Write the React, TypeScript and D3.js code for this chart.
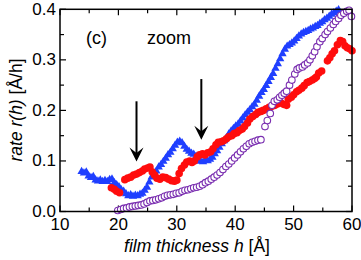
import * as d3 from 'd3';

const W = 361;
const H = 260;
const left = 60;
const right = 352;
const top = 9.3;
const bottom = 211.5;

const xTicks = [10, 20, 30, 40, 50, 60];
const yTicks = [0.0, 0.1, 0.2, 0.3, 0.4];

// blue triangles
const blueH = [
  13.7, 14.1, 14.5, 14.9, 15.3, 15.7, 16.1, 16.5, 16.9, 17.3, 17.7, 18.1, 18.5, 18.9, 19.3, 19.7,
  20.1, 20.5, 20.9, 21.3, 21.7, 22.1, 22.5, 22.9, 23.3, 23.7, 24.1, 24.5, 24.9, 25.3, 25.7, 26.1,
  26.5, 26.9, 27.3, 27.7, 28.1, 28.5, 28.9, 29.3, 29.7, 30.1, 30.5, 30.9, 31.3, 31.7, 32.1, 32.5,
  32.9, 33.3, 33.7, 34.1, 34.5, 34.9, 35.3, 35.7, 36.1, 36.5, 36.9, 37.3, 37.7, 38.1, 38.5, 38.9,
  39.3, 39.7, 40.1, 40.5, 40.9, 41.3, 41.7, 42.1, 42.5, 42.9, 43.3, 43.7, 44.1, 44.5, 44.9, 45.3,
  45.7, 46.1, 46.5, 46.9, 47.3, 47.7, 48.1, 48.5, 48.9, 49.3, 49.7, 50.1, 50.5, 50.9, 51.3, 51.7,
  52.1, 52.5, 52.9, 53.3, 53.7, 54.1, 54.5, 54.9, 55.3, 55.7, 56.1, 56.5, 56.9, 57.3, 57.7,
];
const blueR = [
  0.079, 0.076, 0.078, 0.07, 0.067, 0.069, 0.062, 0.06, 0.062, 0.059, 0.061, 0.059, 0.063, 0.064, 0.057, 0.053,
  0.049, 0.043, 0.04, 0.035, 0.031, 0.033, 0.03, 0.032, 0.031, 0.034, 0.036, 0.042, 0.048, 0.058, 0.068, 0.076,
  0.08, 0.088, 0.093, 0.099, 0.105, 0.112, 0.117, 0.124, 0.131, 0.137, 0.139, 0.136, 0.129, 0.123, 0.119, 0.115,
  0.113, 0.109, 0.103, 0.099, 0.098, 0.101, 0.1, 0.103, 0.107, 0.114, 0.12, 0.127, 0.134, 0.14, 0.146, 0.153,
  0.159, 0.164, 0.169, 0.173, 0.179, 0.185, 0.191, 0.196, 0.201, 0.207, 0.212, 0.22, 0.228, 0.235, 0.241, 0.249,
  0.257, 0.265, 0.273, 0.283, 0.292, 0.302, 0.312, 0.321, 0.327, 0.33, 0.333, 0.337, 0.342, 0.347, 0.351, 0.354,
  0.356, 0.358, 0.361, 0.363, 0.366, 0.368, 0.372, 0.375, 0.379, 0.382, 0.386, 0.39, 0.393, 0.396, 0.399,
];

// red filled circles
const redH = [
  18.8, 19.3, 19.7, 20.2, 21.1, 21.6, 22.1, 22.6, 23.1, 23.6, 24.1, 24.5, 25.0, 25.4, 25.8, 26.2,
  26.6, 27.1, 27.6, 28.1, 28.6, 29.1, 29.6, 30.0, 30.4, 30.8, 31.3, 31.7, 32.2, 32.6, 33.0, 33.5,
  33.9, 34.4, 34.8, 35.3, 35.8, 36.2, 36.7, 37.1, 37.6, 38.0, 38.5, 38.9, 39.4, 39.8, 40.3, 40.7,
  41.2, 41.6, 42.1, 42.5, 43.0, 43.5, 43.9, 44.4, 44.8, 45.3, 45.8, 46.3, 46.8, 47.3, 47.8, 48.3,
  48.8, 49.1, 49.6, 50.0, 50.5, 50.9, 51.4, 51.8, 52.3, 52.7, 53.2, 53.6, 53.9, 54.3, 54.8, 55.8,
  56.2, 56.6, 57.0, 57.5, 58.0, 58.4, 58.8, 59.2, 59.6, 60.0,
];
const redR = [
  0.047, 0.044, 0.04, 0.037, 0.063, 0.066, 0.068, 0.072, 0.074, 0.077, 0.08, 0.084, 0.086, 0.088, 0.078, 0.072,
  0.066, 0.064, 0.068, 0.067, 0.064, 0.061, 0.06, 0.062, 0.075, 0.085, 0.092, 0.098, 0.1, 0.097, 0.1, 0.108,
  0.112, 0.114, 0.112, 0.116, 0.118, 0.124, 0.132, 0.137, 0.138, 0.14, 0.144, 0.148, 0.15, 0.154, 0.156, 0.16,
  0.163, 0.168, 0.175, 0.183, 0.188, 0.192, 0.196, 0.198, 0.2, 0.203, 0.206, 0.208, 0.21, 0.213, 0.215, 0.212,
  0.21, 0.222, 0.226, 0.231, 0.237, 0.24, 0.244, 0.249, 0.255, 0.257, 0.26, 0.263, 0.266, 0.274, 0.278, 0.298,
  0.304, 0.312, 0.318, 0.33, 0.338, 0.336, 0.328, 0.324, 0.322, 0.318,
];

// purple open circles
const purpleH = [
  19.9, 20.4, 20.9, 21.4, 21.9, 22.4, 22.9, 23.4, 23.9, 24.4, 24.9, 25.4, 25.9, 26.4, 26.9, 27.4,
  27.9, 28.4, 28.9, 29.4, 29.9, 30.4, 30.9, 31.4, 31.9, 32.4, 32.9, 33.4, 33.9, 34.4, 34.9, 35.4,
  35.9, 36.4, 36.9, 37.4, 37.9, 38.4, 38.9, 39.4, 39.9, 40.4, 40.9, 41.4, 41.9, 42.4, 42.9, 43.4,
  43.9, 44.4, 45.1, 45.5, 46.0, 46.3, 46.7, 47.2, 47.6, 48.0, 48.4, 48.8, 49.3, 49.7, 50.2, 50.6,
  51.0, 51.5, 51.9, 52.4, 52.8, 53.2, 53.6, 54.0, 54.5, 54.9, 55.4, 55.8, 56.3, 56.8, 57.2, 57.7,
  58.1, 58.6, 59.1, 59.5, 59.9,
];
const purpleR = [
  0.002, 0.004, 0.006, 0.007, 0.009, 0.01, 0.011, 0.012, 0.013, 0.015, 0.018, 0.021, 0.022, 0.023, 0.025, 0.027,
  0.03, 0.032, 0.033, 0.034, 0.036, 0.037, 0.04, 0.042, 0.043, 0.045, 0.047, 0.048, 0.05, 0.053, 0.057, 0.06,
  0.064, 0.068, 0.072, 0.077, 0.083, 0.089, 0.094, 0.1, 0.106, 0.112, 0.118, 0.124, 0.129, 0.134, 0.137, 0.139,
  0.141, 0.142, 0.168, 0.18, 0.194, 0.21, 0.218, 0.221, 0.226, 0.23, 0.234, 0.238, 0.25, 0.26, 0.272, 0.281,
  0.284, 0.286, 0.29, 0.294, 0.3, 0.308, 0.316, 0.326, 0.336, 0.342, 0.35, 0.356, 0.363, 0.37, 0.376, 0.382,
  0.388, 0.392, 0.396, 0.398, 0.386,
];

// arrows: h, top of shaft, tip
const arrowH = [23.1, 34.2];
const arrowTop = [0.218, 0.262];
const arrowTip = [0.099, 0.142];

const font = "'Liberation Sans', Arial, Helvetica, sans-serif";

const App = () => {
  const x = d3.scaleLinear().domain([10, 60]).range([left, right]);
  const y = d3.scaleLinear().domain([0, 0.4]).range([bottom, top]);
  const xMinor = d3.range(15, 60, 10);
  const yMinor = d3.range(0.05, 0.4, 0.1);
  const tri = d3.symbol(d3.symbolTriangle, 30)()!;

  return (
    <svg width={W} height={H} style={{ position: 'absolute', left: 0, top: 0, background: '#fff' }} fontFamily={font}>
      <g stroke="#000" strokeWidth={1.2}>
        {xTicks.map(t => (
          <g key={'xt' + t}>
            <line x1={x(t)} x2={x(t)} y1={bottom} y2={bottom - 6} />
            <line x1={x(t)} x2={x(t)} y1={top} y2={top + 6} />
          </g>
        ))}
        {xMinor.map(t => (
          <g key={'xm' + t}>
            <line x1={x(t)} x2={x(t)} y1={bottom} y2={bottom - 4} />
            <line x1={x(t)} x2={x(t)} y1={top} y2={top + 4} />
          </g>
        ))}
        {yTicks.map(t => (
          <g key={'yt' + t}>
            <line x1={left} x2={left + 6} y1={y(t)} y2={y(t)} />
            <line x1={right} x2={right - 6} y1={y(t)} y2={y(t)} />
          </g>
        ))}
        {yMinor.map(t => (
          <g key={'ym' + t}>
            <line x1={left} x2={left + 4} y1={y(t)} y2={y(t)} />
            <line x1={right} x2={right - 4} y1={y(t)} y2={y(t)} />
          </g>
        ))}
      </g>

      {blueH.map((h, i) => (
        <path key={'b' + i} d={tri} transform={`translate(${x(h)},${y(blueR[i])})`} fill="#1f3fff" />
      ))}
      {redH.map((h, i) => (
        <circle key={'r' + i} cx={x(h)} cy={y(redR[i])} r={3.8} fill="#ff0d0d" />
      ))}
      {purpleH.map((h, i) => (
        <circle key={'p' + i} cx={x(h)} cy={y(purpleR[i])} r={3.3} fill="#fff" stroke="#7a2eb0" strokeWidth={1.1} />
      ))}

      {arrowH.map((h, i) => {
        const ax = x(h);
        const ty = y(arrowTip[i]);
        return (
          <g key={'a' + i}>
            <line x1={ax} x2={ax} y1={y(arrowTop[i])} y2={ty - 6} stroke="#000" strokeWidth={2} />
            <path d={`M${ax},${ty} L${ax - 7},${ty - 14} L${ax},${ty - 8.5} L${ax + 7},${ty - 14} Z`} fill="#000" />
          </g>
        );
      })}

      <rect x={left} y={top} width={right - left} height={bottom - top} fill="none" stroke="#000" strokeWidth={1.5} />

      <g fontSize={17} fill="#000">
        {xTicks.map(t => (
          <text key={'xl' + t} x={x(t)} y={230} textAnchor="middle">
            {t}
          </text>
        ))}
        {yTicks.map(t => (
          <text key={'yl' + t} x={56} y={y(t) + 5.5} textAnchor="end">
            {t.toFixed(1)}
          </text>
        ))}
      </g>

      <text x={86} y={43.5} fontSize={18}>
        (c)
      </text>
      <text x={147} y={43.5} fontSize={18}>
        zoom
      </text>

      <text x={(left + right) / 2 - 9} y={252} fontSize={17.5} textAnchor="middle">
        <tspan fontStyle="italic">film thickness h</tspan> [Å]
      </text>
      <text transform="translate(22,110) rotate(-90)" fontSize={17.5} textAnchor="middle">
        <tspan fontStyle="italic">rate r(h)</tspan> [Å/h]
      </text>
    </svg>
  );
};

export default App;
